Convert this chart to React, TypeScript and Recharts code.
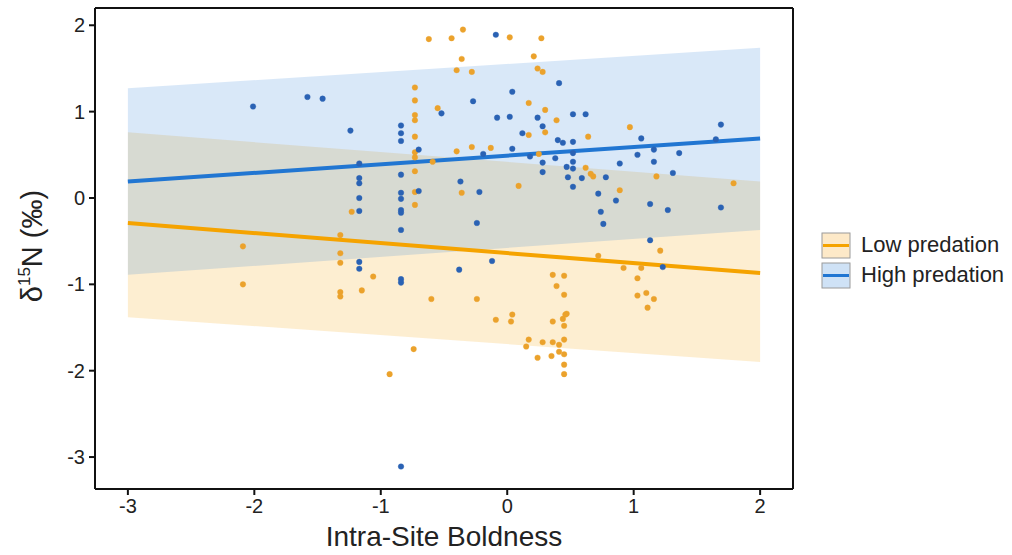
import React from "react";
import { Area, ComposedChart, Line, ReferenceLine, Scatter, XAxis, YAxis } from "recharts";

// group names
const groups = ["Low predation", "High predation"];

// raw observations [boldness, d15N]
const lowPoints: [number, number][] = [
  [-0.62, 1.84], [-0.73, 1.28], [-0.73, 1.13], [-0.73, 0.96], [-0.73, 0.9], [-0.73, 0.71], [-0.73, 0.53],
  [-0.73, 0.47], [-0.73, 0.31], [-0.73, 0.07], [-0.73, -0.08], [-0.55, 1.04], [-0.59, 0.42], [-1.23, -0.16],
  [-1.32, -0.43], [-2.09, -0.56], [-2.09, -1.0], [-1.32, -0.64], [-1.32, -0.75], [-1.32, -1.09], [-1.32, -1.14],
  [-1.15, -1.07], [-1.06, -0.91], [-0.6, -1.17], [-0.74, -1.75], [-0.93, -2.04], [-0.44, 1.85], [-0.35, 1.95],
  [0.02, 1.86], [0.27, 1.85], [-0.36, 1.61], [-0.4, 1.48], [-0.28, 1.46], [0.21, 1.64], [0.24, 1.5], [0.28, 1.46],
  [0.17, 1.1], [0.3, 1.02], [0.39, 0.9], [-0.4, 0.54], [-0.28, 0.59], [-0.13, 0.58], [0.17, 0.73], [0.3, 0.76],
  [0.25, 0.51], [-0.36, 0.06], [0.09, 0.14], [0.64, 0.71], [0.97, 0.82], [1.18, 0.25], [1.79, 0.17], [0.89, 0.09],
  [0.62, 0.35], [0.66, 0.28], [0.68, 0.25], [1.21, -0.61], [0.72, -0.67], [0.92, -0.81], [1.06, -0.81],
  [1.03, -0.93], [1.03, -1.13], [1.1, -1.1], [1.16, -1.17], [1.11, -1.27], [0.36, -0.89], [0.45, -0.9],
  [0.39, -1.02], [0.45, -1.12], [-0.24, -1.17], [-0.09, -1.41], [0.04, -1.35], [0.03, -1.43], [0.17, -1.64],
  [0.15, -1.72], [0.28, -1.67], [0.36, -1.67], [0.41, -1.7], [0.45, -1.64], [0.36, -1.43], [0.44, -1.4],
  [0.47, -1.34], [0.45, -1.48], [0.24, -1.85], [0.35, -1.83], [0.41, -1.78], [0.45, -1.81], [0.45, -1.93],
  [0.45, -2.04], [0.46, -1.35],
];

const highPoints: [number, number][] = [
  [-2.01, 1.06], [-1.58, 1.17], [-1.46, 1.15], [-1.24, 0.78], [-1.17, 0.4], [-1.17, 0.23], [-1.17, 0.17],
  [-1.17, 0.0], [-1.17, -0.15], [-1.17, -0.74], [-1.17, -0.82], [-0.84, 0.84], [-0.84, 0.75], [-0.84, 0.66],
  [-0.84, 0.27], [-0.84, 0.06], [-0.84, -0.01], [-0.84, -0.14], [-0.84, -0.17], [-0.84, -0.37], [-0.84, -0.94],
  [-0.84, -0.98], [-0.84, -3.11], [-0.7, 0.56], [-0.7, 0.08], [-0.09, 1.89], [0.41, 1.33], [0.04, 1.23],
  [-0.27, 1.12], [-0.52, 0.98], [-0.08, 0.93], [0.02, 0.94], [0.24, 0.93], [0.52, 0.97], [0.62, 0.97],
  [0.28, 0.83], [0.12, 0.75], [0.4, 0.67], [0.44, 0.64], [0.52, 0.65], [-0.19, 0.51], [0.04, 0.57], [0.18, 0.48],
  [0.38, 0.46], [0.52, 0.52], [0.52, 0.42], [0.28, 0.41], [0.47, 0.36], [0.52, 0.34], [0.28, 0.3], [0.48, 0.24],
  [0.52, 0.13], [0.59, 0.23], [0.78, 0.24], [0.72, 0.05], [0.86, -0.03], [0.74, -0.16], [0.76, -0.3],
  [0.89, 0.4], [1.03, 0.5], [1.06, 0.69], [1.16, 0.56], [1.16, 0.42], [1.36, 0.52], [1.31, 0.29], [1.13, -0.07],
  [1.27, -0.14], [1.69, 0.85], [1.65, 0.68], [1.69, -0.11], [-0.37, 0.19], [-0.22, 0.07], [-0.24, -0.29],
  [1.13, -0.49], [1.23, -0.8], [-0.12, -0.73], [-0.38, -0.83],
];

// fitted lines and bands, read at the two ends
const fitX = [-3, 2];
const lowFit = [-0.29, -0.87];
const lowBand: [number, number][] = [[-1.38, 0.76], [-1.9, 0.19]];
const highFit = [0.19, 0.69];
const highBand: [number, number][] = [[-0.89, 1.27], [-0.37, 1.74]];

const xTicks = [-3, -2, -1, 0, 1, 2];
const yTicks = [-3, -2, -1, 0, 1, 2];
const xDomain = [-3.26, 2.26];
const yDomain = [-3.37, 2.2];

const ORANGE = "#f5a300";
const BLUE = "#2176d2";
const ORANGE_PT = "#eba22c";
const BLUE_PT = "#2a62b4";
const FONT = "Liberation Sans, Arial, sans-serif";

const fitData = fitX.map((x, i) => ({
  x,
  lowFit: lowFit[i],
  lowBand: lowBand[i],
  highFit: highFit[i],
  highBand: highBand[i],
}));

const toRows = (pts: [number, number][]) => pts.map(([x, y]) => ({ x, y }));

const dot = (color: string) => (props: any) => (
  <circle cx={props.cx} cy={props.cy} r={2.8} fill={color} stroke={color} strokeOpacity={0.6} strokeWidth={0.6} />
);

const tickStyle = { fontSize: 20, fill: "#222", fontFamily: FONT };

function YLabel() {
  return (
    <text transform="translate(42, 246) rotate(-90)" textAnchor="middle" fontSize={29} fill="#222" fontFamily={FONT}>
      δ<tspan fontSize={17} dy={-12}>15</tspan>
      <tspan dy={12}>N (‰)</tspan>
    </text>
  );
}

function LegendKey({ fill, line }: { fill: string; line: string }) {
  return (
    <svg width={30} height={27} style={{ display: "block" }}>
      <rect x={1} y={1} width={28} height={25} fill={fill} stroke="#9a9a9a" strokeWidth={1} />
      <line x1={2} x2={28} y1={13.5} y2={13.5} stroke={line} strokeWidth={3} />
    </svg>
  );
}

export default function App() {
  const keys = [
    { name: groups[0], fill: "#fde9c8", line: ORANGE },
    { name: groups[1], fill: "#cfe2f6", line: BLUE },
  ];
  return (
    <div style={{ position: "absolute", left: 0, top: 0, width: 1012, height: 555, background: "#fff" }}>
      <ComposedChart width={1012} height={555} data={fitData} margin={{ top: 8, right: 219, bottom: 0, left: 25 }}>
        <XAxis
          dataKey="x"
          type="number"
          domain={xDomain}
          ticks={xTicks}
          tick={tickStyle}
          tickSize={6}
          tickMargin={4}
          stroke="#111"
          strokeWidth={2}
          height={66}
          label={{ value: "Intra-Site Boldness", position: "insideBottom", offset: 9, fontSize: 28, fill: "#222", fontFamily: FONT }}
          allowDataOverflow
        />
        <YAxis
          type="number"
          domain={yDomain}
          ticks={yTicks}
          tick={tickStyle}
          tickSize={6}
          tickMargin={4}
          stroke="#111"
          strokeWidth={2}
          width={70}
          allowDataOverflow
        />
        <Area dataKey="lowBand" type="linear" fill={ORANGE} fillOpacity={0.18} stroke="none" isAnimationActive={false} />
        <Area dataKey="highBand" type="linear" fill="#2f80d8" fillOpacity={0.18} stroke="none" isAnimationActive={false} />
        <Scatter data={toRows(lowPoints)} dataKey="y" shape={dot(ORANGE_PT)} isAnimationActive={false} />
        <Scatter data={toRows(highPoints)} dataKey="y" shape={dot(BLUE_PT)} isAnimationActive={false} />
        <Line dataKey="lowFit" type="linear" stroke={ORANGE} strokeWidth={4} dot={false} isAnimationActive={false} />
        <Line dataKey="highFit" type="linear" stroke={BLUE} strokeWidth={4} dot={false} isAnimationActive={false} />
        <ReferenceLine y={yDomain[1]} stroke="#111" strokeWidth={2} ifOverflow="visible" />
        <ReferenceLine x={xDomain[1]} stroke="#111" strokeWidth={2} ifOverflow="visible" />
        <YLabel />
      </ComposedChart>
      <div style={{ position: "absolute", left: 821, top: 230, fontFamily: FONT, fontSize: 22, color: "#222" }}>
        {keys.map((k) => (
          <div key={k.name} style={{ display: "flex", alignItems: "center", height: 30 }}>
            <LegendKey fill={k.fill} line={k.line} />
            <span style={{ marginLeft: 10 }}>{k.name}</span>
          </div>
        ))}
      </div>
    </div>
  );
}
